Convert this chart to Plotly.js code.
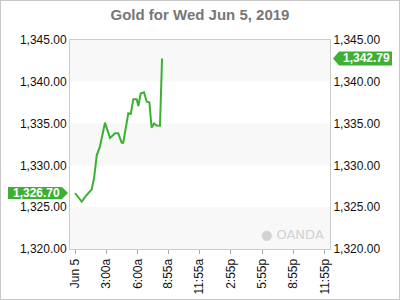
<!DOCTYPE html>
<html>
<head>
<meta charset="utf-8">
<script src="https://cdn.plot.ly/plotly-3.0.1.min.js"></script>
<style>
html,body{margin:0;padding:0;background:#fff;}
#frame{width:400px;height:300px;box-sizing:border-box;border:1px solid #c8c8c8;}
#chart{width:398px;height:298px;}
</style>
</head>
<body>
<div id="frame"><div id="chart"></div></div>
<script>
const times = ["2019-06-05 00:00","2019-06-05 00:38","2019-06-05 01:07","2019-06-05 01:36","2019-06-05 01:49",
  "2019-06-05 02:05","2019-06-05 02:23","2019-06-05 02:52","2019-06-05 03:21","2019-06-05 03:50",
  "2019-06-05 04:08","2019-06-05 04:28","2019-06-05 04:37","2019-06-05 04:57","2019-06-05 05:06",
  "2019-06-05 05:20","2019-06-05 05:35","2019-06-05 05:54","2019-06-05 06:04","2019-06-05 06:17",
  "2019-06-05 06:36","2019-06-05 06:52","2019-06-05 07:07","2019-06-05 07:20","2019-06-05 07:34",
  "2019-06-05 07:49","2019-06-05 08:08","2019-06-05 08:20"];
const prices = [1326.70,1325.66,1326.46,1327.14,1328.46,
  1331.24,1332.24,1335.11,1333.28,1333.84,
  1333.84,1332.72,1332.72,1334.95,1336.23,
  1336.15,1337.91,1337.91,1337.11,1338.60,
  1338.74,1337.62,1337.55,1334.51,1335.01,
  1334.77,1334.75,1342.79];
const tickVals = ["2019-06-05 00:00","2019-06-05 03:00","2019-06-05 06:00","2019-06-05 08:55","2019-06-05 11:55",
  "2019-06-05 14:55","2019-06-05 17:55","2019-06-05 20:55","2019-06-05 23:55"];
const tickText = ["Jun 5","3:00a","6:00a","8:55a","11:55a","2:55p","5:55p","8:55p","11:55p"];
const yTicks = [1320,1325,1330,1335,1340,1345];
const xRange = ["2019-06-04 23:31","2019-06-06 00:25"];
const openPrice = prices[0];
const lastPrice = prices[prices.length-1];

const green = "#3cb034";
const fnt = "Liberation Sans, Arial, sans-serif";

const shapes = [];
// alternating bands
for (let i = 0; i < yTicks.length - 1; i += 2) {
  shapes.push({type:"rect", xref:"paper", yref:"y", x0:0, x1:1, y0:yTicks[i], y1:yTicks[i+1],
    fillcolor:"#f8f8f8", line:{width:0}, layer:"below"});
}
// price tags
shapes.push({type:"path", xref:"paper", yref:"y", xsizemode:"pixel", ysizemode:"pixel",
  xanchor:0, yanchor:openPrice, path:"M-2,0 L-8,6 L-62,6 L-62,-6 L-8,-6 Z",
  fillcolor:green, line:{width:0}});
shapes.push({type:"path", xref:"paper", yref:"y", xsizemode:"pixel", ysizemode:"pixel",
  xanchor:1, yanchor:lastPrice, path:"M3,0 L9,7 L62,7 L62,-7 L9,-7 Z",
  fillcolor:green, line:{width:0}});

const fmt = v => v.toLocaleString("en-US",{minimumFractionDigits:2,maximumFractionDigits:2});

const annotations = [
  {xref:"paper", yref:"y", x:0, y:openPrice, xanchor:"center", xshift:-34, showarrow:false,
   text:"<b>"+fmt(openPrice)+"</b>", font:{family:fnt, size:12, color:"#fff"}},
  {xref:"paper", yref:"y", x:1, y:lastPrice, xanchor:"center", xshift:36, showarrow:false,
   text:"<b>"+fmt(lastPrice)+"</b>", font:{family:fnt, size:12, color:"#fff"}},
  {xref:"paper", yref:"paper", x:0.985, y:0.025, xanchor:"right", yanchor:"bottom", showarrow:false,
   text:"● OANDA", font:{family:"DejaVu Sans, sans-serif", size:13, color:"#d2d2d2"}}
];

const traces = [
  {x:times, y:prices, type:"scatter", mode:"lines", line:{color:green, width:2}, hoverinfo:"skip"},
  {x:times, y:prices, type:"scatter", mode:"lines", yaxis:"y2", line:{color:green, width:0}, opacity:0, hoverinfo:"skip"}
];

const yax = {range:[yTicks[0], yTicks[yTicks.length-1]], tickvals:yTicks, tickformat:",.2f",
  showgrid:false, zeroline:false, showline:true, linecolor:"#cccccc", linewidth:1,
  ticks:"", tickfont:{family:fnt, size:12, color:"#111"}, fixedrange:true};

const layout = {
  width:398, height:298,
  margin:{l:69, r:69, t:39, b:50},
  paper_bgcolor:"#fff", plot_bgcolor:"#fff",
  showlegend:false,
  title:{text:"<b>Gold for Wed Jun 5, 2019</b>", font:{family:fnt, size:15, color:"#777"},
    x:0.5, xanchor:"center", y:0.955, yanchor:"middle"},
  xaxis:{type:"date", range:xRange, tickvals:tickVals, ticktext:tickText, tickangle:-90,
    showgrid:false, zeroline:false, showline:true, linecolor:"#cccccc", mirror:true,
    ticks:"outside", ticklen:4, tickcolor:"#aaa", tickfont:{family:fnt, size:12, color:"#111"}},
  yaxis:Object.assign({}, yax, {side:"left", mirror:true}),
  yaxis2:Object.assign({}, yax, {side:"right", overlaying:"y"}),
  shapes:shapes,
  annotations:annotations
};

Plotly.newPlot("chart", traces, layout, {staticPlot:true, displayModeBar:false});
</script>
</body>
</html>
